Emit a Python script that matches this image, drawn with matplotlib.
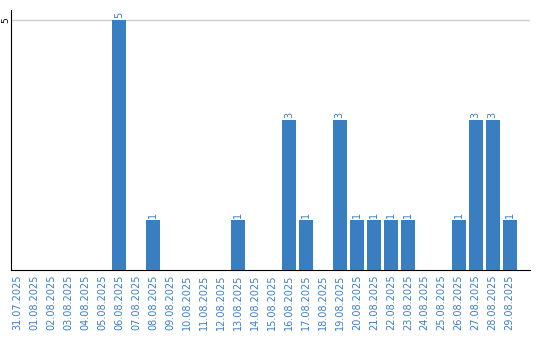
import matplotlib
matplotlib.use("Agg")
import matplotlib.pyplot as plt

# --- data ---
dates = ['31.07.2025', '01.08.2025', '02.08.2025', '03.08.2025', '04.08.2025',
         '05.08.2025', '06.08.2025', '07.08.2025', '08.08.2025', '09.08.2025',
         '10.08.2025', '11.08.2025', '12.08.2025', '13.08.2025', '14.08.2025',
         '15.08.2025', '16.08.2025', '17.08.2025', '18.08.2025', '19.08.2025',
         '20.08.2025', '21.08.2025', '22.08.2025', '23.08.2025', '24.08.2025',
         '25.08.2025', '26.08.2025', '27.08.2025', '28.08.2025', '29.08.2025']
counts = [0, 0, 0, 0, 0, 0, 5, 0, 1, 0,
          0, 0, 0, 1, 0, 0, 3, 1, 0, 3,
          1, 1, 1, 1, 0, 0, 1, 3, 3, 1]
y_ticks = [5]

bar_color = '#3a7ec2'
text_color = '#3b7fc2'

fig = plt.figure(figsize=(5.4, 3.4), dpi=100)
ax = fig.add_axes([0.0195, 0.206, 0.9615, 0.765])

x = list(range(len(dates)))
ax.bar(x, counts, width=0.82, color=bar_color, zorder=3)

# value labels above non-empty bars
for xi, v in zip(x, counts):
    if v > 0:
        ax.text(xi, v + 0.04, str(v), rotation=90, ha='center', va='bottom',
                fontsize=7, color=text_color)

ax.set_xlim(-0.38, 30.18)
ax.set_ylim(0, 5.2)
ax.set_xticks(x)
ax.set_xticklabels(dates, rotation=90, fontsize=7, color=text_color)
ax.set_yticks(y_ticks)
ax.set_yticklabels([str(t) for t in y_ticks], rotation=90, fontsize=6.5,
                   va='center')
ax.tick_params(axis='both', length=0, pad=3)
ax.tick_params(axis='y', pad=0)
ax.grid(axis='y', color='#cccccc', linewidth=1, zorder=0)

for side in ['top', 'right']:
    ax.spines[side].set_visible(False)
ax.spines['left'].set_color('black')
ax.spines['bottom'].set_color('black')

fig.savefig('out.png', dpi=100)
